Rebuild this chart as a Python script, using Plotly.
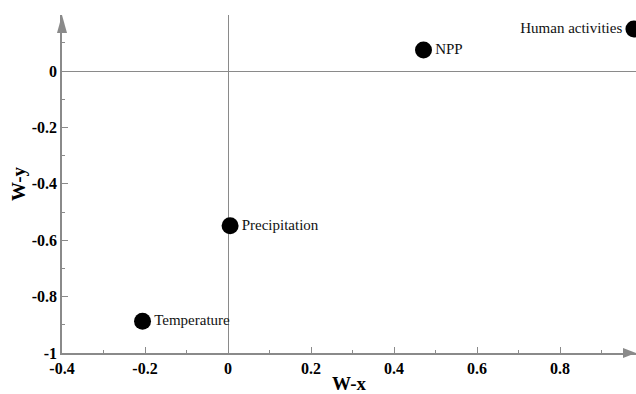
import plotly.graph_objects as go

# Factor loadings on the two weight axes
factors = ["Temperature", "Precipitation", "NPP", "Human activities"]
w_x = [-0.206, 0.005, 0.471, 0.978]
w_y = [-0.887, -0.549, 0.075, 0.149]
label_side = ["middle right", "middle right", "middle right", "middle left"]

x_ticks = [-0.4, -0.2, 0, 0.2, 0.4, 0.6, 0.8]
y_ticks = [-1, -0.8, -0.6, -0.4, -0.2, 0]

x_range = [-0.4, 0.983]
y_range = [-1.0, 0.199]

axis_grey = "#8a8a8a"
serif = "'Times New Roman', 'Liberation Serif', 'DejaVu Serif', serif"

fig = go.Figure()
fig.add_trace(go.Scatter(
    x=w_x, y=w_y, mode="markers+text",
    text=factors, textposition=label_side,
    textfont=dict(family=serif, size=15, color="#111"),
    marker=dict(size=17, color="black"),
    cliponaxis=False, showlegend=False,
))

tick_font = dict(family=serif, size=16, color="black", weight="bold")
common = dict(
    showgrid=False, showline=True, linecolor=axis_grey, linewidth=1.5,
    ticks="inside", ticklen=6, tickwidth=1.2, tickcolor=axis_grey,
    zeroline=True, zerolinecolor=axis_grey, zerolinewidth=1.3,
    tickfont=tick_font,
    minor=dict(ticks="inside", ticklen=3, dtick=0.1, tickcolor=axis_grey, tickwidth=1),
)

fig.update_xaxes(
    range=x_range, tickvals=x_ticks, ticktext=[f"{v:g}" for v in x_ticks],
    title=dict(text="W-x", font=dict(family=serif, size=19, color="black", weight="bold"), standoff=4),
    **common,
)
fig.update_yaxes(
    range=y_range, tickvals=y_ticks, ticktext=[f"{v:g}" for v in y_ticks],
    title=dict(text="W-y", font=dict(family=serif, size=19, color="black", weight="bold"), standoff=1),
    **common,
)

# Arrowheads at the ends of both axes
fig.add_shape(type="path", xref="paper", yref="paper",
              xsizemode="pixel", ysizemode="pixel", xanchor=1, yanchor=0,
              path="M0,0 L-13,5 L-13,-5 Z", fillcolor=axis_grey, line=dict(width=0))
fig.add_shape(type="path", xref="paper", yref="paper",
              xsizemode="pixel", ysizemode="pixel", xanchor=0, yanchor=1,
              path="M0,0 L-5,-18 L5,-18 Z", fillcolor=axis_grey, line=dict(width=0))

fig.update_layout(
    width=636, height=394,
    margin=dict(l=62, r=0, t=15, b=41),
    paper_bgcolor="white", plot_bgcolor="white",
    font=dict(family=serif),
)

fig.write_html("out.html")
